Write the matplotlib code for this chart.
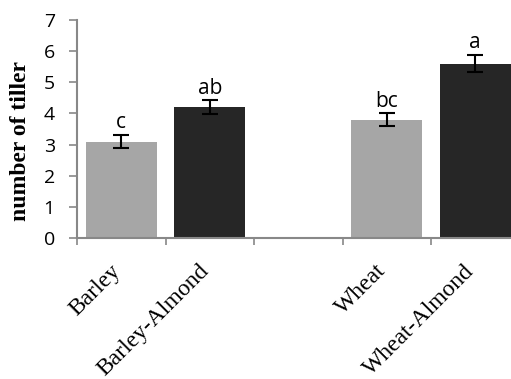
import matplotlib
matplotlib.use('Agg')
from matplotlib import pyplot
from matplotlib.transforms import ScaledTranslation
import numpy as np

# tiller counts per crop treatment
groups = ['Barley', 'Barley-Almond', '', 'Wheat', 'Wheat-Almond']
tillers = [3.1, 4.2, np.nan, 3.8, 5.6]
errors = [0.2, 0.22, np.nan, 0.2, 0.27]
letters = ['c', 'ab', '', 'bc', 'a']
colors = ['#a6a6a6', '#262626', 'none', '#a6a6a6', '#262626']

fig = pyplot.figure(figsize=(5.11, 3.79), dpi=100)
ax = fig.add_axes([0.1507, 0.372, 0.866, 0.575])

x = np.arange(len(groups))
ax.bar(x, tillers, width=0.8, color=colors, zorder=1)
ax.errorbar(x, tillers, yerr=errors, fmt='none', ecolor='black',
            elinewidth=1.5, capsize=5.5, capthick=1.5, zorder=3)

for xi, v, e, s in zip(x, tillers, errors, letters):
    if s:
        ax.text(xi, v + e + 0.22, s, ha='center', va='baseline',
                fontsize=15, family='Open Sans')

ax.set_xlim(-0.5, 4.5)
ax.set_ylim(0, 7)
ax.set_yticks(range(0, 8))
ax.set_yticklabels([str(i) for i in range(0, 8)], family='Open Sans', fontsize=14)
ax.tick_params(axis='y', direction='out', length=6, width=1.2, color='#888888', pad=10)

# category names: slanted, top-right corner just under each bar
ax.set_xticks([])
name_shift = ScaledTranslation(0.035, -0.225, fig.dpi_scale_trans)
for xi, name in zip(x, groups):
    if name:
        ax.text(xi, 0, name, rotation=45, ha='right', va='top',
                family='Liberation Serif', fontsize=17,
                transform=ax.get_xaxis_transform() + name_shift)
ax.set_xticks(np.arange(-0.5, 4.6, 1), minor=True)
ax.tick_params(axis='x', which='minor', direction='out', length=5, width=1.2, color='#888888')

ax.spines['top'].set_visible(False)
ax.spines['right'].set_visible(False)
for side in ['left', 'bottom']:
    ax.spines[side].set_color('#888888')
    ax.spines[side].set_linewidth(1.5)

ax.set_ylabel('number of tiller', family='Liberation Serif', fontweight='bold', fontsize=17)
ax.yaxis.set_label_coords(-0.104, 0.447)

pyplot.savefig('out.png', dpi=100)
